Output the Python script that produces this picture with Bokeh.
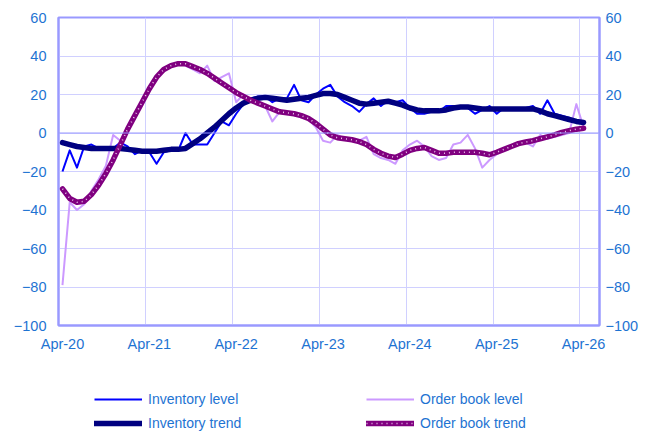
from bokeh.plotting import figure
from bokeh.models import (LinearAxis, FixedTicker, Legend, LegendItem, Span,
                          ColumnDataSource, Range1d)
from bokeh.layouts import column
from bokeh.embed import file_html
from bokeh.resources import INLINE

# Month index 0 = Apr-20 ... 72 = Apr-26
months = list(range(73))
tick_positions = [0, 12, 24, 36, 48, 60, 72]
tick_labels = ["Apr-20", "Apr-21", "Apr-22", "Apr-23", "Apr-24", "Apr-25", "Apr-26"]
y_ticks = [-100, -80, -60, -40, -20, 0, 20, 40, 60]

inventory_level = [-20, -9, -18, -7, -6, -8, -8, -8, -5, -7, -11, -9, -10, -16, -10, -9, -9, 0,
                   -6, -6, -6, 0, 6, 4, 10, 15, 18, 19, 19, 16, 18, 18, 25, 17, 16, 20, 23, 25,
                   19, 16, 14, 11, 15, 18, 14, 17, 16, 17, 13, 10, 10, 11, 11, 14, 14, 14, 13,
                   10, 12, 14, 10, 13, 12, 12, 13, 14, 10, 17, 10, 9, 8, 6, 5]
inventory_trend = [-5, -6, -7, -7.5, -8, -8, -8, -8, -8, -8.5, -9, -9.5, -9.5, -9.5, -9, -8.5,
                   -8.5, -8, -5.5, -3, 0, 3, 6.5, 10, 13, 15.5, 17, 18, 18.5, 18, 17.5, 17, 17.5,
                   18, 18.5, 19.5, 20.5, 20.5, 20, 18.5, 17, 15.5, 15, 15.5, 16, 16.5, 15.5,
                   14.5, 13, 12, 11.5, 11.5, 11.5, 12, 13, 13.5, 13.5, 13, 12.5, 12.5, 12.5,
                   12.5, 12.5, 12.5, 12.5, 12.5, 11.5, 10, 9, 8, 7, 6, 5.5]
order_level = [-79, -36, -40, -37, -30, -24, -17, -1, -4, 1, 8, 15, 24, 30, 33, 35, 36, 35, 33,
               31, 35, 27, 29, 31, 16, 20, 17, 15, 14, 6, 11, 10, 10, 8, 7, 3, -4, -5, -1, -3,
               -3, -4, -2, -11, -13, -14, -16, -9, -6, -4, -7, -12, -14, -13, -6, -5, -1, -8,
               -18, -14, -11, -9, -7, -6, -5, -7, -1, -3, -2, -1, 0, 15, 3]
order_trend = [-29, -34, -36, -35.5, -32, -27, -21, -14, -6, 2, 9, 16, 23, 29, 33, 35, 36, 36,
               34.5, 33, 31, 28.5, 26, 23.5, 21, 19, 17, 15.5, 14, 12.5, 11, 10.5, 10, 9, 7.5,
               5, 2, -1, -2.5, -3, -3.5, -4.5, -6, -8.5, -10.5, -12, -12.7, -11, -9, -8, -7.5,
               -9, -10.5, -10.5, -10, -10, -10, -10, -10.5, -11.3, -10, -8.5, -7, -5.5, -4.7,
               -4, -3, -2, -1, 0.3, 1.2, 2, 2.5]
series_names = ["Inventory level", "Order book level", "Inventory trend", "Order book trend"]

src = ColumnDataSource(dict(m=months, inv=inventory_level, invt=inventory_trend,
                            ob=order_level, obt=order_trend))

LABEL_COLOR = "#1E73D2"
AXIS_COLOR = "#9999FF"
GRID_COLOR = "#D0D0FF"
FONT = "Liberation Sans"

STYLE_INV = dict(line_color="#0000FF", line_width=2, line_join="round")
STYLE_OB = dict(line_color="#CC99FF", line_width=2, line_join="round")
STYLE_INVT = dict(line_color="#000080", line_width=5.5, line_join="round", line_cap="round")
STYLE_OBT = dict(line_color="#800080", line_width=5.5, line_join="round", line_cap="round")
STYLE_OBD = dict(line_color="#E8C4E8", line_width=1.6, line_dash="1 4")

p = figure(width=645, height=360, output_backend="svg", toolbar_location=None,
           x_range=Range1d(-0.55, 74.2), y_range=Range1d(-100, 60),
           min_border_left=58, min_border_right=46, min_border_top=17, min_border_bottom=35)

p.outline_line_color = AXIS_COLOR
p.outline_line_width = 2
p.background_fill_color = "white"
p.border_fill_color = "white"

# Lines
p.line("m", "ob", source=src, **STYLE_OB)
p.line("m", "inv", source=src, **STYLE_INV)
p.line("m", "invt", source=src, **STYLE_INVT)
p.line("m", "obt", source=src, **STYLE_OBT)
p.line("m", "obt", source=src, **STYLE_OBD)

# Zero line
p.add_layout(Span(location=0, dimension="width", line_color=AXIS_COLOR, line_width=1.2))

# X axis
xa = p.xaxis[0]
xa.ticker = FixedTicker(ticks=tick_positions)
xa.major_label_overrides = {t: l for t, l in zip(tick_positions, tick_labels)}
xa.axis_line_color = AXIS_COLOR
xa.axis_line_width = 2
xa.major_tick_line_color = None
xa.minor_tick_line_color = None
xa.major_tick_out = 0
xa.major_tick_in = 0
xa.major_label_standoff = 10
xa.major_label_text_color = LABEL_COLOR
xa.major_label_text_font = FONT
xa.major_label_text_font_size = "14.5px"

# Y axes
ya = p.yaxis[0]
ya.ticker = FixedTicker(ticks=y_ticks)
ra = LinearAxis(ticker=FixedTicker(ticks=y_ticks))
p.add_layout(ra, "right")
for ax, so in ((ya, 12), (ra, 6)):
    ax.axis_line_color = AXIS_COLOR
    ax.axis_line_width = 2
    ax.major_tick_line_color = None
    ax.minor_tick_line_color = None
    ax.major_tick_out = 0
    ax.major_tick_in = 0
    ax.major_label_standoff = so
    ax.major_label_text_color = LABEL_COLOR
    ax.major_label_text_font = FONT
    ax.major_label_text_font_size = "14.5px"

# Grids
p.xgrid.ticker = FixedTicker(ticks=[t - 0.5 for t in tick_positions[1:]])
p.xgrid.grid_line_color = GRID_COLOR
p.xgrid.grid_line_width = 1
p.ygrid.ticker = FixedTicker(ticks=y_ticks)
p.ygrid.grid_line_color = GRID_COLOR
p.ygrid.grid_line_width = 1

# Legend strip below the chart (its ranges lie outside the data, so only legend samples show)
lf = figure(width=645, height=74, output_backend="svg", toolbar_location=None,
            x_range=Range1d(1000, 1001), y_range=Range1d(1000, 1001),
            min_border_left=0, min_border_right=0, min_border_top=0, min_border_bottom=0)
lf.axis.visible = False
lf.grid.visible = False
lf.outline_line_color = None
lf.background_fill_color = "white"
lf.border_fill_color = "white"

l_inv = lf.line("m", "inv", source=src, **STYLE_INV)
l_ob = lf.line("m", "ob", source=src, **STYLE_OB)
l_invt = lf.line("m", "invt", source=src, **STYLE_INVT)
l_obt = lf.line("m", "obt", source=src, **STYLE_OBT)
l_obd = lf.line("m", "obt", source=src, **STYLE_OBD)


def make_legend(items, loc):
    return Legend(items=items, orientation="horizontal", location=loc,
                  glyph_width=48, glyph_height=16, label_standoff=6, label_width=143,
                  label_height=16, spacing=75, padding=3, margin=0,
                  border_line_alpha=0, background_fill_alpha=0,
                  label_text_font=FONT, label_text_font_size="14px",
                  label_text_color=LABEL_COLOR)

lg1 = make_legend([LegendItem(label=series_names[0], renderers=[l_inv]),
                   LegendItem(label=series_names[1], renderers=[l_ob])], (33, 24))
lg2 = make_legend([LegendItem(label=series_names[2], renderers=[l_invt]),
                   LegendItem(label=series_names[3], renderers=[l_obt, l_obd])], (33, 0))
lf.add_layout(lg1)
lf.add_layout(lg2)

layout = column(p, lf, spacing=0)
open("out.html", "w").write(file_html(layout, INLINE))
